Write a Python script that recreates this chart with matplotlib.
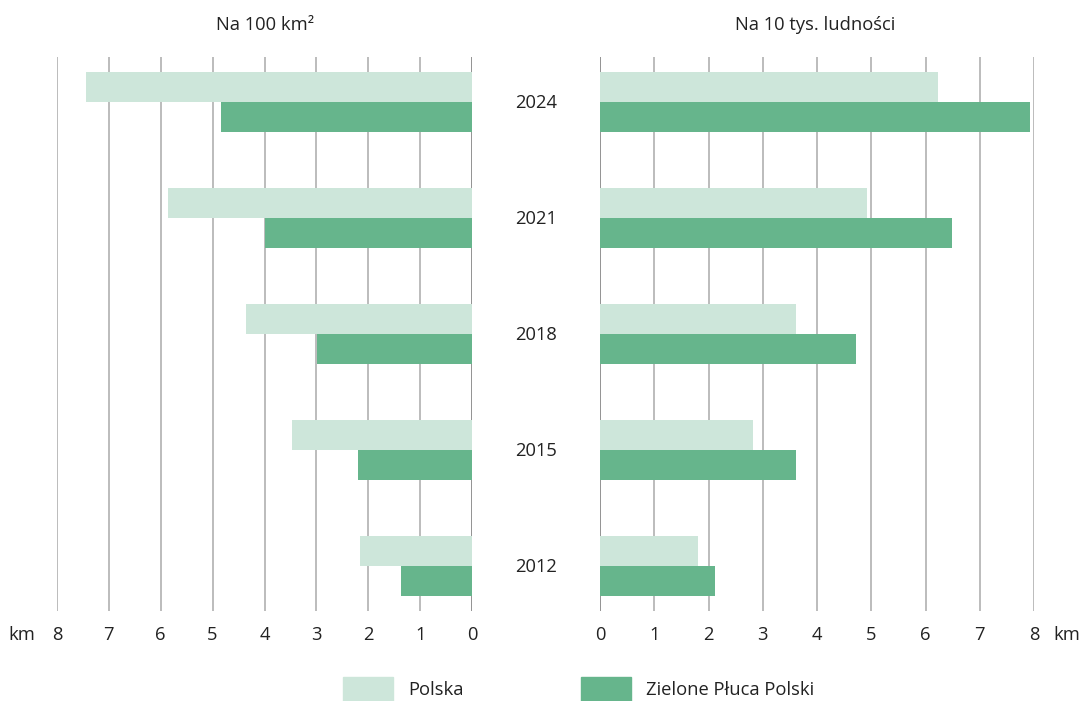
import numpy as np
import matplotlib
matplotlib.use("Agg")
import matplotlib.pyplot as plt
from matplotlib.patches import Rectangle

plt.rcParams["font.family"] = ["Open Sans", "DejaVu Sans"]

YEARS = ["2012", "2015", "2018", "2021", "2024"]
AREA_POLSKA = [2.16, 3.47, 4.35, 5.86, 7.44]
AREA_ZPP = [1.37, 2.20, 2.99, 3.99, 4.84]
POP_POLSKA = [1.81, 2.82, 3.61, 4.92, 6.23]
POP_ZPP = [2.12, 3.61, 4.72, 6.49, 7.93]
TICKS = [0, 1, 2, 3, 4, 5, 6, 7, 8]

LIGHT = "#cde6da"
DARK = "#66b58c"
GRID = "#b0b0b0"
ZERO = "#808080"
TEXT = "#222222"
FS = 13.2

W, H = 1084, 701
fig = plt.figure(figsize=(W / 100, H / 100), dpi=100)


def px_axes(x0, x1, y0, y1):
    return fig.add_axes([x0 / W, 1 - y1 / H, (x1 - x0) / W, (y1 - y0) / H])


ax_l = px_axes(57, 472, 57, 611)
ax_r = px_axes(600, 1034, 57, 611)

y = np.arange(len(YEARS))
h = 0.2586
for ax, pol, zpp in ((ax_l, AREA_POLSKA, AREA_ZPP), (ax_r, POP_POLSKA, POP_ZPP)):
    for t in TICKS:
        ax.axvline(t, color=ZERO if t == 0 else GRID, linewidth=1.2, zorder=0)
    ax.barh(y + h / 2, pol, height=h, color=LIGHT, zorder=2)
    ax.barh(y - h / 2, zpp, height=h, color=DARK, zorder=2)
    ax.set_ylim(-0.388, 4.388)
    ax.set_yticks([])
    ax.set_xticks(TICKS)
    ax.tick_params(axis="x", length=0, pad=11, labelsize=FS, labelcolor=TEXT)
    for s in ax.spines.values():
        s.set_visible(False)
    ax.patch.set_alpha(0)

ax_l.set_xlim(8, 0)
ax_r.set_xlim(0, 8)

# year labels in the gap between the panels
for i, yr in enumerate(YEARS):
    ax_l.annotate(yr, xy=(0, i), xycoords="data", xytext=(64, -1),
                  textcoords="offset pixels",
                  ha="center", va="center", fontsize=FS, color=TEXT)

fig.text(265 / W, 1 - 25 / H, "Na 100 km²", ha="center", va="center", fontsize=FS, color=TEXT)
fig.text(815 / W, 1 - 25 / H, "Na 10 tys. ludności", ha="center", va="center", fontsize=FS, color=TEXT)
fig.text(22 / W, 1 - 635 / H, "km", ha="center", va="center", fontsize=FS, color=TEXT)
fig.text(1067 / W, 1 - 635 / H, "km", ha="center", va="center", fontsize=FS, color=TEXT)

# legend
for x0, color, label in ((343, LIGHT, "Polska"), (581, DARK, "Zielone Płuca Polski")):
    fig.patches.append(Rectangle((x0 / W, 1 - 701 / H), 50 / W, 24 / H,
                                 transform=fig.transFigure, color=color))
    fig.text((x0 + 65) / W, 1 - 690 / H, label, ha="left", va="center",
             fontsize=FS, color=TEXT)

fig.savefig("out.png", dpi=100)
